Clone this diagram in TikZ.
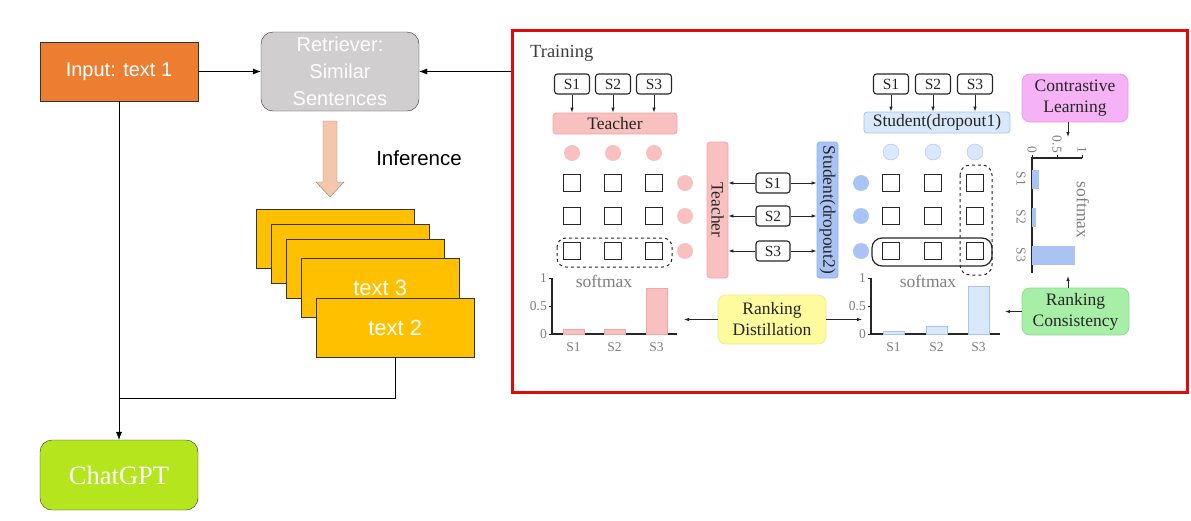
\documentclass[tikz,border=0pt]{standalone}
\usepackage{fontspec}
\setmainfont{Liberation Serif}
\newfontfamily\sansf{Liberation Sans}
\usetikzlibrary{positioning,arrows.meta}
\definecolor{inorange}{HTML}{ED7D31}
\definecolor{retgray}{HTML}{D0CECE}
\definecolor{peach}{HTML}{F4C7AA}
\definecolor{amber}{HTML}{FFC000}
\definecolor{chatgreen}{HTML}{B5E61D}
\definecolor{boxred}{HTML}{E00A0A}
\definecolor{tpink}{HTML}{F9C0C0}
\definecolor{tpinkline}{HTML}{F2A6A6}
\definecolor{sblue}{HTML}{A9C4F4}
\definecolor{sblueline}{HTML}{8EB0EC}
\definecolor{lblue}{HTML}{DAE8FC}
\definecolor{lblueline}{HTML}{A9C4EB}
\definecolor{clpink}{HTML}{F5B2F5}
\definecolor{clpinkline}{HTML}{E89BE8}
\definecolor{rdyellow}{HTML}{FDFB9E}
\definecolor{rdyellowline}{HTML}{F0EA8C}
\definecolor{rcgreen}{HTML}{A7EFA7}
\definecolor{rcgreenline}{HTML}{8FDB8F}
\definecolor{ink}{HTML}{262626}
\definecolor{axisgray}{HTML}{7F7F7F}

\begin{document}
\begin{tikzpicture}[x=1pt,y=-1pt,
    >={Latex[length=8pt,width=6pt]},
    flat/.style={draw=black!80,minimum width=158pt,minimum height=59pt,inner sep=0pt,
      text=white,font=\sansf\fontsize{20}{22}\selectfont},
    sar/.style={-{Latex[length=5pt,width=3.5pt]},line width=0.8pt,draw=ink},
    sbox/.style={draw=ink,line width=1.1pt,rounded corners=3pt,minimum width=35pt,
      minimum height=20pt,inner sep=0pt,text=ink,font=\fontsize{15.5}{16}\selectfont},
    cell/.style={draw=ink,line width=1.3pt,minimum size=17pt,inner sep=0pt},
    dot/.style={circle,minimum size=16pt,inner sep=0pt},
    bar/.style={rounded corners=3pt,inner sep=0pt,minimum height=21pt,line width=0.8pt,
      text=ink,font=\fontsize{17.5}{18}\selectfont},
    lab/.style={rounded corners=8pt,inner sep=0pt,align=center,line width=0.8pt,
      text=ink,font=\fontsize{17.5}{21}\selectfont},
    tick/.style={inner sep=1pt,text=axisgray,font=\fontsize{13.5}{14}\selectfont},
    title/.style={inner sep=0pt,text=axisgray,font=\fontsize{17.5}{18}\selectfont}]
  \useasboundingbox (0,0) rectangle (1191,520);

  \node[flat,fill=inorange] (input) at (119,71.5) {Input: text 1};
  \node[flat,fill=retgray,rounded corners=12pt,minimum height=79pt,align=center,
    font=\sansf\fontsize{20}{27}\selectfont] (retr) at (340,71.5) {Retriever:\\Similar\\Sentences};
  \draw[draw=gray,fill=peach] (323,121) -- (337,121) -- (337,182) -- (344,182)
    -- (330,197) -- (316,182) -- (323,182) -- cycle;
  \node[font=\sansf\fontsize{20.5}{22}\selectfont] (infer) at (419,158) {Inference};
  \foreach \x/\y [count=\i] in {256/209,271/224,286/239}
    \node[flat,fill=amber,anchor=north west] (page\i) at (\x,\y) {};
  \node[flat,fill=amber,anchor=north west,font=\sansf\fontsize{22}{24}\selectfont] (text3) at (301,258) {text 3};
  \node[flat,fill=amber,anchor=north west,font=\sansf\fontsize{22}{24}\selectfont] (text2) at (316,298) {text 2};
  \node[flat,fill=chatgreen,rounded corners=12pt,minimum height=70pt,
    font=\fontsize{26.5}{28}\selectfont] (chat) at (119,475) {ChatGPT};
  \coordinate (merge) at (119,398);
  \draw[->] (input) -- (chat);
  \draw (text2) |- (merge);
  \draw[->] (input) -- (retr);

  \node[draw=boxred,line width=3pt,minimum width=675pt,minimum height=362pt] (train) at (849.5,211) {};
  \draw[->] (train.west |- retr.east) -- (retr.east);
  \node[anchor=west,inner sep=0pt,text=ink!90,font=\fontsize{18.5}{20}\selectfont] (trainlbl) at (530,53) {Training};

  \foreach \i/\x in {1/572,2/613,3/654} {
    \node[sbox] (ts\i) at (\x,84) {S\i};
    \node[dot,fill=tpink] (tc\i) at (\x,153) {};
  }
  \node[bar,fill=tpink,draw=tpinkline,minimum width=124pt] (tch) at (615,123.5) {Teacher};
  \foreach \i in {1,2,3}
    \draw[sar] (ts\i) -- (ts\i |- tch.north);

  \foreach \i/\x in {1/891,2/933,3/975} {
    \node[sbox] (ss\i) at (\x,84) {S\i};
    \node[dot,fill=lblue,draw=lblueline] (sc\i) at (\x,152) {};
  }
  \node[bar,fill=lblue,draw=lblueline,minimum width=146pt] (stu) at (937,122.5) {Student(dropout1)};
  \foreach \i in {1,2,3}
    \draw[sar] (ss\i) -- (ss\i |- stu.north);

  \node[bar,rotate=-90,fill=tpink,draw=tpinkline,minimum width=136pt] (tv) at (717.5,210) {Teacher};
  \node[bar,rotate=-90,fill=sblue,draw=sblueline,minimum width=136pt] (sv) at (827.5,210) {Student(dropout2)};

  \foreach \r/\y in {1/183,2/216,3/251} {
    \foreach \c/\x in {1/572,2/613,3/654}
      \node[cell] (tq\r\c) at (\x,\y) {};
    \node[dot,fill=tpink] (tr\r) at (685,\y) {};
    \node[sbox,minimum width=34pt] (ms\r) at (773,\y) {S\r};
    \draw[sar] (ms\r) -- (ms\r -| tv.north);
    \draw[sar] (ms\r) -- (ms\r -| sv.south);
    \node[dot,fill=sblue] (sr\r) at (861,\y) {};
    \foreach \c/\x in {1/891,2/933,3/975}
      \node[cell] (sq\r\c) at (\x,\y) {};
  }
  \draw[ink,line width=1pt,dashed,rounded corners=9pt] (557,238) rectangle (672,267);
  \draw[ink,line width=1.2pt,rounded corners=10pt] (872,238) rectangle (992,266);
  \draw[ink,line width=1pt,dashed,rounded corners=10pt] (960,165) rectangle (992,275);

  \draw[ink,line width=1.2pt] (552,278) -- (552,334) -- (677,334);
  \foreach \v/\y [count=\k] in {1/278,0.5/306,0/334} {
    \draw[ink] (549,\y) -- (552,\y);
    \node[tick,anchor=east] (tt\k) at (548,\y) {\v};
  }
  \foreach \x/\h [count=\k] in {563/5,604/5,646/46} {
    \draw[fill=tpink,draw=tpinkline] (\x,334) rectangle ++(21,-\h);
    \node[tick] (tx\k) at (\x+10.5,347) {S\k};
  }
  \node[title] (tsoft) at (604,281) {softmax};

  \draw[ink,line width=1.2pt] (871,278) -- (871,334) -- (1000,334);
  \foreach \v/\y [count=\k] in {1/278,0.5/306,0/334} {
    \draw[ink] (868,\y) -- (871,\y);
    \node[tick,anchor=east] (st\k) at (867,\y) {\v};
  }
  \foreach \x/\h [count=\k] in {883/3,926/8,968/48} {
    \draw[fill=lblue,draw=lblueline] (\x,334) rectangle ++(21,-\h);
    \node[tick] (sx\k) at (\x+10.5,347) {S\k};
  }
  \node[title] (ssoft) at (928,281) {softmax};

  \draw[ink,line width=1.2pt] (1032,273) -- (1032,158) -- (1082,158);
  \foreach \v/\x [count=\k] in {0/1032,0.5/1057,1/1082} {
    \draw[ink] (\x,155) -- (\x,158);
    \node[tick,rotate=-90,anchor=east] (ct\k) at (\x,154) {\v};
  }
  \foreach \y/\w [count=\k] in {170/6,208/3,246/42} {
    \draw[fill=sblue,draw=lblueline] (1032,\y) rectangle ++(\w,18);
    \node[tick,rotate=-90] (cx\k) at (1021,\y+9) {S\k};
  }
  \node[title,rotate=-90] (csoft) at (1083,210) {softmax};

  \node[lab,fill=clpink,draw=clpinkline,minimum width=106pt,minimum height=48pt] (cl) at (1075,98) {Contrastive\\Learning};
  \coordinate (clend) at (1068,137);
  \draw[sar] (cl.south -| clend) -- (clend);

  \node[lab,fill=rcgreen,draw=rcgreenline,minimum width=107pt,minimum height=47pt] (rc) at (1075.5,311.5) {Ranking\\Consistency};
  \coordinate (rcup) at (1068,276);
  \coordinate (rcleft) at (1005,311.5);
  \draw[sar] (rc.north -| rcup) -- (rcup);
  \draw[sar] (rc.west) -- (rcleft);

  \node[lab,fill=rdyellow,draw=rdyellowline,minimum width=108pt,minimum height=49pt] (rd) at (772,319.5) {Ranking\\Distillation};
  \coordinate (rdl) at (684,319.5);
  \coordinate (rdr) at (862,319.5);
  \draw[sar] (rd) -- (rdl);
  \draw[sar] (rd) -- (rdr);
\end{tikzpicture}
\end{document}
